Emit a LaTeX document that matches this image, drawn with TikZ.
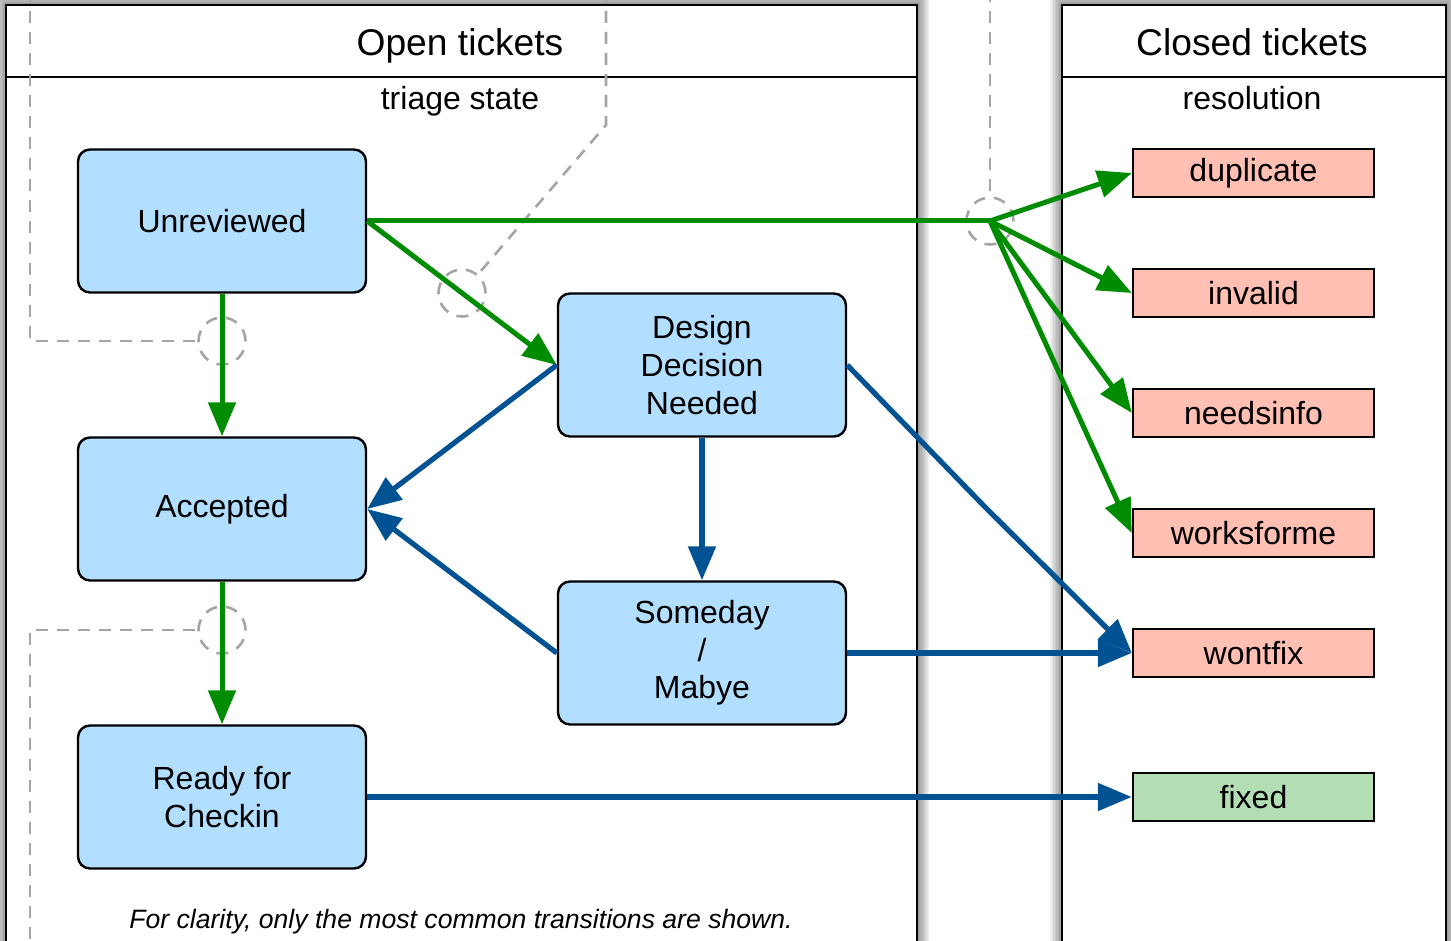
\documentclass[tikz,border=0pt]{standalone}
\usepackage{fontspec}
\setmainfont{Liberation Sans}
\usetikzlibrary{arrows.meta}
\definecolor{boxblue}{RGB}{178,223,255}
\definecolor{salmon}{RGB}{255,191,178}
\definecolor{fixgreen}{RGB}{179,222,179}
\definecolor{lgreen}{RGB}{0,140,0}
\definecolor{lblue}{RGB}{0,82,147}
\definecolor{dgray}{RGB}{165,165,165}
\begin{document}
\begin{tikzpicture}[x=0.5pt,y=-0.5pt,
  statebox/.style={draw, line width=1.2pt, rounded corners=6pt, fill=boxblue,
    minimum width=144pt, minimum height=71.5pt, align=center, inner sep=0pt,
    font=\fontsize{16}{18.8}\selectfont},
  resbox/.style={draw, line width=1.2pt, fill=salmon, minimum width=120.5pt,
    minimum height=24pt, inner sep=0pt, font=\fontsize{16}{18.8}\selectfont},
  lanetitle/.style={anchor=base, font=\fontsize{18.6}{22}\selectfont},
  lanesub/.style={anchor=base, font=\fontsize{16}{18.8}\selectfont},
  garrow/.style={draw=lgreen, line width=2.5pt, -{Triangle[length=17pt,width=13.5pt]}},
  gline/.style={draw=lgreen, line width=2.5pt},
  barrow/.style={draw=lblue, line width=2.6pt, -{Triangle[length=17pt,width=13.5pt]}},
  ring/.style={circle, draw=dgray, line width=1.3pt, dash pattern=on 6pt off 4.5pt, minimum size=23.5pt, inner sep=0pt},
  noteline/.style={draw=dgray, line width=1.3pt, dash pattern=on 6pt off 4.5pt},
]
\useasboundingbox (0,0) rectangle (1451,941);
\clip (0,0) rectangle (1451,941);

% lane shadows
\foreach \i in {1,...,8} {
  \draw[black, opacity=0.06, line width=\i*1.5pt] (6,5) rectangle (917,980);
  \draw[black, opacity=0.06, line width=\i*1.5pt] (1062,5) rectangle (1446,980);
}
% lanes
\draw[fill=white, line width=1.3pt] (6,5) rectangle (917,980);
\draw[line width=1.3pt] (6,77) -- (917,77);
\draw[fill=white, line width=1.3pt] (1062,5) rectangle (1446,980);
\draw[line width=1.3pt] (1062,77) -- (1446,77);

\node[lanetitle] (opent) at (460,56) {Open tickets};
\node[lanetitle] (closedt) at (1252,56) {Closed tickets};
\node[lanesub] (triage) at (460,110) {triage state};
\node[lanesub] (resol) at (1252,110) {resolution};

% states
\node[statebox] (unrev) at (222,221) {Unreviewed};
\node[statebox] (acc) at (222,509) {Accepted};
\node[statebox] (ready) at (222,797) {Ready for\\Checkin};
\node[statebox] (ddn) at (702,365) {Design\\Decision\\Needed};
\node[statebox] (some) at (702,653) {Someday\\/\\Mabye};

% resolutions
\node[resbox] (dup) at (1253.5,173) {duplicate};
\node[resbox] (inv) at (1253.5,293) {invalid};
\node[resbox] (nin) at (1253.5,413) {needsinfo};
\node[resbox] (wfm) at (1253.5,533) {worksforme};
\node[resbox] (wtf) at (1253.5,653) {wontfix};
\node[resbox, fill=fixgreen] (fix) at (1253.5,797) {fixed};

\node[font=\itshape\fontsize{13.3}{16}\selectfont, anchor=base] (note) at (461,928)
  {For clarity, only the most common transitions are shown.};

% dashed note rings
\node[ring] (r1) at (222,341) {};
\node[ring] (r2) at (462,293) {};
\node[ring] (r3) at (990,221) {};
\node[ring] (r4) at (222,630) {};
\coordinate (t1) at (30,-10);
\coordinate (t2) at (606,-10);
\coordinate (t3) at (990,-10);
\coordinate (t4) at (30,960);
\coordinate (b1) at (30,341);
\coordinate (b2) at (606,125);
\coordinate (b4) at (30,630);
\draw[noteline] (t1) -- (b1) -- (r1);
\draw[noteline] (t2) -- (b2) -- (r2);
\draw[noteline] (t3) -- (r3);
\draw[noteline] (t4) -- (b4) -- (r4);

% green transitions
\coordinate (jn) at (990,221);
\draw[gline] (unrev.east) -- (jn);
\draw[garrow] (jn) -- (dup.west);
\draw[garrow] (jn) -- (inv.west);
\draw[garrow] (jn) -- (nin.west);
\draw[garrow] (jn) -- (wfm.west);
\draw[garrow] (unrev.east) -- (ddn.west);
\draw[garrow] (unrev.south) -- (acc.north);
\draw[garrow] (acc.south) -- (ready.north);

% blue transitions
\coordinate (kink) at (984,506);
\draw[barrow] (ddn.west) -- (acc.east);
\draw[barrow] (some.west) -- (acc.east);
\draw[barrow] (ddn.south) -- (some.north);
\draw[barrow] (ddn.east) -- (kink) -- (wtf.west);
\draw[barrow] (some.east) -- (wtf.west);
\draw[barrow] (ready.east) -- (fix.west);
\end{tikzpicture}
\end{document}
